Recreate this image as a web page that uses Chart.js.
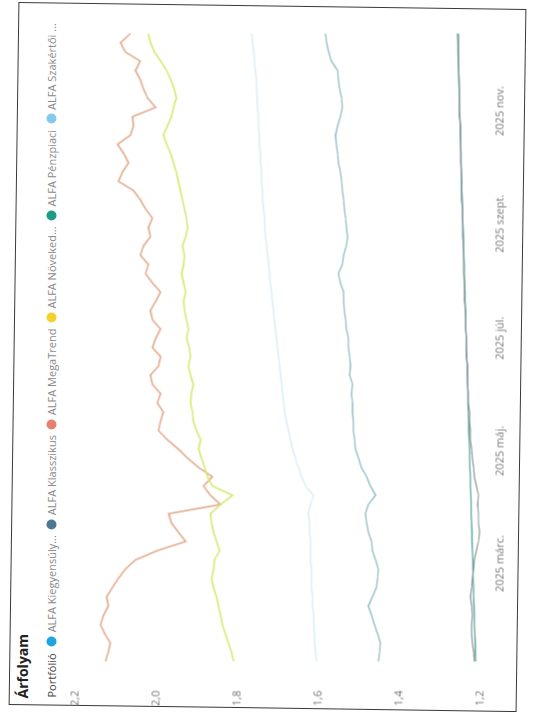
<!DOCTYPE html>
<html>
<head>
<meta charset="utf-8">
<script src="https://cdn.jsdelivr.net/npm/chart.js@4.4.1/dist/chart.umd.min.js"></script>
<style>
  html, body { margin: 0; padding: 0; background: #fff; }
  body { width: 534px; height: 718px; position: relative; overflow: hidden; font-family: "Open Sans", "Noto Sans", sans-serif; }
  #border {
    position: absolute; left: -84.5px; top: 103px;
    width: 703px; height: 508px;
    border: 1px solid #3a3a3a; box-sizing: border-box;
    transform: rotate(-89.2deg); transform-origin: 50% 50%;
  }
  #frame {
    position: absolute; left: -84.5px; top: 103px;
    width: 703px; height: 508px;
    transform: rotate(-90deg); transform-origin: 50% 50%;
  }
  #title { position: absolute; left: 10px; top: 0px; font-size: 14px; font-weight: 700; color: #222; line-height: 17px; }
  #legend { position: absolute; left: 11px; top: 30px; height: 16px; display: flex; align-items: center; font-size: 11px; color: #8a8a8a; line-height: 16px; white-space: nowrap; }
  #legend .ttl { color: #444; margin-right: 7px; }
  #legend .dot { width: 10px; height: 10px; border-radius: 50%; display: inline-block; margin-right: 4px; }
  #legend .item { display: flex; align-items: center; margin-right: 6px; }
  canvas { position: absolute; left: 0; top: 0; }
</style>
</head>
<body>
<div id="border"></div>
<div id="frame">
  <div id="title">Árfolyam</div>
  <div id="legend"></div>
  <canvas id="chart" width="703" height="508"></canvas>
</div>
<script>
// dátumok (kb. 5 naponta)
const dates = [
  '2025-01-07','2025-01-12','2025-01-17','2025-01-22','2025-01-27',
  '2025-02-01','2025-02-06','2025-02-11','2025-02-16','2025-02-21','2025-02-26',
  '2025-03-03','2025-03-08','2025-03-13','2025-03-18','2025-03-23','2025-03-28',
  '2025-04-02','2025-04-07','2025-04-12','2025-04-17','2025-04-22','2025-04-27',
  '2025-05-02','2025-05-07','2025-05-12','2025-05-17','2025-05-22','2025-05-27',
  '2025-06-01','2025-06-06','2025-06-11','2025-06-16','2025-06-21','2025-06-26',
  '2025-07-01','2025-07-06','2025-07-11','2025-07-16','2025-07-21','2025-07-26','2025-07-31',
  '2025-08-05','2025-08-10','2025-08-15','2025-08-20','2025-08-25','2025-08-30',
  '2025-09-04','2025-09-09','2025-09-14','2025-09-19','2025-09-24','2025-09-29',
  '2025-10-04','2025-10-09','2025-10-14','2025-10-19','2025-10-24','2025-10-29',
  '2025-11-03','2025-11-08','2025-11-13','2025-11-18','2025-11-23','2025-11-28',
  '2025-12-03','2025-12-08','2025-12-13'
];

const tickDates = ['2025-03-01','2025-05-01','2025-07-01','2025-09-01','2025-11-01'];
const tickLabels = ['2025 márc.','2025 máj.','2025 júl.','2025 szept.','2025 nov.'];
const yTicks = [1.2, 1.4, 1.6, 1.8, 2.0, 2.2];

const legendNames = ['ALFA Kiegyensúly...','ALFA Klasszikus','ALFA MegaTrend','ALFA Növeked...','ALFA Pénzpiaci','ALFA Szakértői ...'];
const legendColors = ['#1ea4de','#4b7892','#e8806f','#f4d22b','#1b9c85','#82caef'];

const kiegyensulyozott = [
  1.452,1.449,1.447,1.454,1.462,1.469,1.477,1.467,1.457,1.454,1.452,1.459,1.467,1.469,1.477,1.481,1.484,
  1.477,1.459,1.472,1.481,1.494,1.501,1.509,1.511,1.514,1.514,1.516,1.516,1.519,1.516,1.523,1.521,1.523,
  1.526,1.526,1.531,1.533,1.536,1.538,1.538,1.546,1.551,1.541,1.538,1.531,1.528,1.531,1.533,1.536,1.538,
  1.541,1.543,1.546,1.551,1.553,1.556,1.558,1.553,1.546,1.541,1.543,1.548,1.551,1.553,1.568,1.575,1.580,1.583
];
const klasszikus = [
  1.215,1.217,1.220,1.222,1.222,1.220,1.222,1.225,1.222,1.220,1.217,1.215,1.210,1.205,1.202,1.205,1.205,
  1.207,1.205,1.210,1.215,1.217,1.220,1.222,1.225,1.225,1.227,1.227,1.230,1.230,1.232,1.232,1.232,1.235,
  1.235,1.235,1.237,1.237,1.237,1.240,1.240,1.240,1.242,1.242,1.242,1.242,1.244,1.244,1.244,1.244,1.247,
  1.247,1.247,1.247,1.249,1.249,1.249,1.249,1.249,1.252,1.252,1.252,1.252,1.252,1.254,1.254,1.254,1.254,1.254
];
const megaTrend = [
  2.126,2.119,2.114,2.128,2.138,2.131,2.119,2.123,2.109,2.094,2.077,2.052,1.998,1.928,1.946,1.963,1.970,
  1.842,1.867,1.884,1.862,1.896,1.923,1.946,1.973,1.995,1.990,1.983,1.998,1.990,2.010,2.015,1.995,1.990,
  2.010,2.002,1.990,2.010,2.015,2.002,1.990,2.010,2.027,2.020,2.040,2.032,2.015,2.020,2.010,2.027,2.040,
  2.057,2.094,2.084,2.069,2.081,2.096,2.064,2.057,2.059,2.002,2.022,2.032,2.040,2.052,2.040,2.077,2.089,2.064
];
const novekedesi = [
  1.810,1.815,1.822,1.830,1.837,1.842,1.847,1.852,1.859,1.864,1.859,1.857,1.844,1.852,1.859,1.864,1.867,
  1.842,1.812,1.862,1.874,1.881,1.889,1.896,1.891,1.901,1.909,1.911,1.916,1.914,1.909,1.916,1.921,1.916,
  1.919,1.926,1.921,1.926,1.931,1.933,1.928,1.933,1.938,1.933,1.931,1.936,1.928,1.923,1.926,1.931,1.936,
  1.941,1.946,1.951,1.958,1.965,1.975,1.983,1.973,1.963,1.958,1.951,1.956,1.965,1.975,1.990,2.005,2.015,2.020
];
const penzpiaci = [
  1.212,1.213,1.213,1.214,1.215,1.215,1.216,1.217,1.217,1.218,1.219,1.219,1.220,1.221,1.221,1.222,1.223,
  1.223,1.224,1.225,1.225,1.226,1.227,1.227,1.228,1.229,1.229,1.230,1.231,1.231,1.232,1.233,1.233,1.234,
  1.235,1.235,1.236,1.236,1.237,1.238,1.238,1.239,1.240,1.240,1.241,1.242,1.242,1.243,1.244,1.244,1.245,
  1.246,1.246,1.247,1.248,1.248,1.249,1.250,1.250,1.251,1.252,1.252,1.253,1.254,1.254,1.255,1.256,1.256,1.257
];
const szakertoi = [
  1.605,1.607,1.610,1.610,1.612,1.612,1.615,1.615,1.617,1.617,1.617,1.620,1.620,1.620,1.622,1.622,1.625,
  1.620,1.612,1.632,1.642,1.649,1.657,1.664,1.669,1.674,1.679,1.684,1.686,1.689,1.691,1.694,1.696,1.699,
  1.701,1.704,1.706,1.709,1.711,1.714,1.716,1.719,1.721,1.723,1.726,1.728,1.731,1.733,1.733,1.736,1.738,
  1.738,1.741,1.741,1.743,1.743,1.746,1.746,1.748,1.748,1.751,1.751,1.753,1.753,1.756,1.758,1.760,1.763,1.765
];

// nap az év elejétől
function dayNum(s) {
  const p = s.split('-');
  return (Date.UTC(+p[0], +p[1] - 1, +p[2]) - Date.UTC(2025, 0, 1)) / 86400000;
}
const xs = dates.map(dayNum);
const tickDays = tickDates.map(dayNum);

function pts(arr) {
  return arr.map((v, i) => ({ x: xs[i], y: v }));
}

// legend
const legendEl = document.getElementById('legend');
let html = '<span class="ttl">Portfólió</span>';
legendNames.forEach(function (name, i) {
  html += '<span class="item"><span class="dot" style="background:' + legendColors[i] + '"></span>' + name + '</span>';
});
legendEl.innerHTML = html;

const fontFam = '"Open Sans", "Noto Sans", sans-serif';

new Chart(document.getElementById('chart').getContext('2d'), {
  type: 'line',
  data: {
    datasets: [
      { label: legendNames[5], data: pts(szakertoi), borderColor: '#d9eef4', borderWidth: 1.5 },
      { label: legendNames[0], data: pts(kiegyensulyozott), borderColor: '#8fbcc2', borderWidth: 1.3 },
      { label: legendNames[1], data: pts(klasszikus), borderColor: '#8c9a9c', borderWidth: 1.2 },
      { label: legendNames[4], data: pts(penzpiaci), borderColor: '#5aa79c', borderWidth: 1.3 },
      { label: legendNames[3], data: pts(novekedesi), borderColor: '#d3ea70', borderWidth: 1.6 },
      { label: legendNames[2], data: pts(megaTrend), borderColor: '#e2ab8c', borderWidth: 1.6 }
    ]
  },
  options: {
    responsive: false,
    animation: false,
    events: [],
    elements: { point: { radius: 0 }, line: { tension: 0 } },
    layout: { padding: { top: 62, right: 28, left: 0, bottom: 0 } },
    plugins: { legend: { display: false }, tooltip: { enabled: false } },
    scales: {
      x: {
        type: 'linear',
        min: xs[0],
        max: xs[xs.length - 1],
        grid: { display: false },
        border: { display: false },
        ticks: {
          autoSkip: false, maxRotation: 0, padding: 5,
          color: '#777', font: { family: fontFam, size: 11 },
          callback: function (v) {
            const i = tickDays.indexOf(v);
            return i >= 0 ? tickLabels[i] : '';
          }
        },
        afterBuildTicks: function (scale) {
          scale.ticks = tickDays.map(d => ({ value: d }));
        },
        afterFit: function (scale) { scale.height = 41; }
      },
      y: {
        min: yTicks[0],
        max: yTicks[yTicks.length - 1],
        grid: { display: false },
        border: { display: false },
        ticks: {
          padding: 21,
          color: '#777', font: { family: fontFam, size: 11 },
          callback: function (v) { return v.toFixed(1).replace('.', ','); }
        },
        afterBuildTicks: function (scale) {
          scale.ticks = yTicks.map(v => ({ value: v }));
        },
        afterFit: function (scale) { scale.width = 47; }
      }
    }
  }
});
</script>
</body>
</html>
